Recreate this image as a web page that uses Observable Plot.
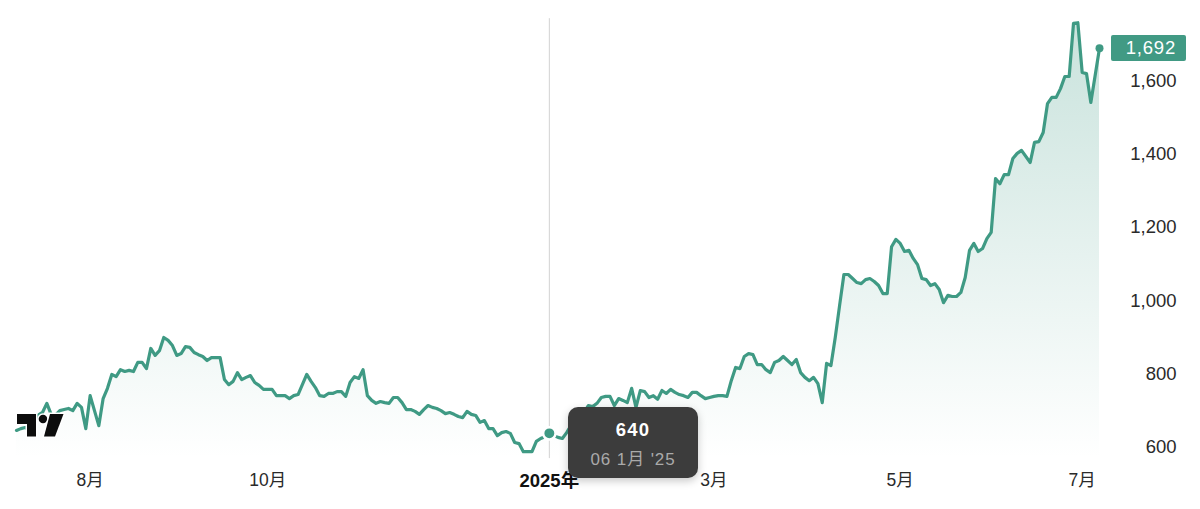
<!DOCTYPE html>
<html><head><meta charset="utf-8">
<script src="https://cdn.jsdelivr.net/npm/d3@7"></script>
<script src="https://cdn.jsdelivr.net/npm/@observablehq/plot@0.6"></script>
<style>
html,body{margin:0;padding:0;background:#fff}
#wrap{position:relative;width:1200px;height:509px;overflow:hidden;font-family:"Liberation Sans","Noto Sans CJK JP",sans-serif}
#wrap svg.plot{position:absolute;left:0;top:0;background:transparent;overflow:visible}
#tag{position:absolute;left:1111px;top:35px;width:75px;height:26px;background:#419a84;border-radius:2px;color:#fff;font-size:18.5px;line-height:26px;text-align:right;box-sizing:border-box;padding-right:10px;letter-spacing:.8px}
#tip{position:absolute;left:568px;top:407px;width:130px;height:71px;background:#3c3c3c;border-radius:10px;box-shadow:0 3px 8px rgba(0,0,0,.22);text-align:center}
#tip .a{position:absolute;left:0;right:0;top:12px;font-size:18.5px;font-weight:700;color:#fff;letter-spacing:1.2px;line-height:22px}
#tip .b{position:absolute;left:0;right:0;top:42px;font-size:17px;color:#aaa;letter-spacing:.9px;line-height:22px}
#logo{position:absolute;left:0;top:400px}
</style></head><body>
<div id="wrap"></div>
<script>
// closing price per trading session (index = session); null where no vertex could be read
const prices = [648,653,656,650,670,690,697,722,692,690,702,705,708,702,722,711,653,743,702,661,
735,763,801,795,814,809,812,809,834,834,817,872,853,866,902,894,880,853,858,877,
875,861,855,850,839,847,847,847,787,773,782,806,787,793,798,779,771,760,760,760,
743,743,743,735,743,746,null,801,782,765,743,741,749,749,754,754,741,779,795,790,
814,743,730,722,727,724,722,738,738,724,705,705,700,692,705,716,711,708,702,694,
697,692,686,683,700,692,689,670,675,653,653,634,642,645,640,615,612,590,590,590,
618,626,631,640,634,629,626,642,661,675,686,697,716,713,722,738,741,741,716,735,
730,724,763,711,757,754,738,743,733,757,749,760,752,746,743,738,752,752,743,735,
738,741,743,743,741,784,820,817,850,858,855,828,828,814,806,834,839,850,839,828,
842,806,793,784,793,776,724,831,825,902,989,1074,1074,1063,1052,1049,1060,1063,1055,1044,
1022,1022,1150,1170,1159,1137,1140,1118,1101,1063,1060,1044,1049,1033,997,1017,1014,1014,1025,1066,
1140,1159,1137,1145,1172,1189,1336,1322,1347,1347,1391,1405,1413,null,1380,1435,1437,1462,1541,1558,
1558,1582,1615,1615,1760,1762,1626,1623,1544,null,1692];
const xTickSessions = [17,58,161,204,246];
const xTickLabels = ["8月","10月","3月","5月","7月"];
const yearSession = 123, yearLabel = "2025年";
const yTicks = [600,800,1000,1200,1400,1600];
const hoverSession = 123, hoverPrice = 640, hoverDate = "06 1月 '25";
const lastPrice = 1692;
const GREEN = "#3f9a84";
const BASE = 571, TOP = 1773;

const data = prices.map((p,i)=>({s:i,p})).filter(d=>d.p!=null);
const fmt = d3.format(",");
const gradient = () => {
  const defs = d3.create("svg:defs");
  const g = defs.append("linearGradient").attr("id","fade").attr("x1",0).attr("x2",0).attr("y1",0).attr("y2",1);
  g.append("stop").attr("offset",0).attr("stop-color",GREEN).attr("stop-opacity",.28);
  g.append("stop").attr("offset",1).attr("stop-color",GREEN).attr("stop-opacity",0);
  return defs.node();
};
const font = {fontSize:18.5, fill:"#2a2a2a", fontWeight:400};
const chart = Plot.plot({
  width:1200, height:509, marginLeft:16, marginRight:101, marginTop:0, marginBottom:51,
  style:{background:"transparent", fontFamily:'"Liberation Sans","Noto Sans CJK JP",sans-serif'},
  x:{type:"linear", domain:[0,250], axis:null},
  y:{domain:[600,1600], range:[447.5,81.5], axis:null},
  marks:[
    gradient,
    Plot.areaY(data,{x:"s",y1:BASE,y2:"p",fill:"url(#fade)"}),
    Plot.ruleX([hoverSession],{y1:BASE,y2:TOP,stroke:"#d2d2d2",strokeWidth:1}),
    Plot.lineY(data,{x:"s",y:"p",stroke:GREEN,strokeWidth:3.2,strokeLinejoin:"round",curve:"linear"}),
    Plot.dot([{s:hoverSession,p:hoverPrice}],{x:"s",y:"p",r:6.2,fill:GREEN,stroke:"#fff",strokeWidth:2.5}),
    Plot.dot([{s:250,p:lastPrice}],{x:"s",y:"p",r:4,fill:GREEN}),
    Plot.axisY(yTicks,{anchor:"right",tickSize:0,tickPadding:77,textAnchor:"end",tickFormat:fmt,dy:-1,label:null,...font,letterSpacing:.7}),
    Plot.axisX(xTickSessions,{anchor:"bottom",tickSize:0,tickPadding:15,tickFormat:(d,i)=>xTickLabels[i],label:null,...font,fontSize:17.5,letterSpacing:.6}),
    Plot.axisX([yearSession],{anchor:"bottom",tickSize:0,tickPadding:15,tickFormat:()=>yearLabel,label:null,...font,fontSize:18.5,fontWeight:700,fill:"#111",letterSpacing:1.8})
  ]
});
const wrap = document.getElementById("wrap");
wrap.appendChild(chart);
wrap.insertAdjacentHTML("beforeend",
 `<svg id="logo" width="80" height="50" viewBox="0 400 80 50">
   <g fill="#0d0d0d" stroke="#fff" stroke-width="3" paint-order="stroke">
    <path d="M17 414H36V436.5H27V424H17Z"/>
    <circle cx="43" cy="419" r="4.3"/>
    <path d="M50 414H63.5L55 436.5H44Z"/>
   </g></svg>
  <div id="tag">${fmt(lastPrice)}</div>
  <div id="tip"><div class="a">${hoverPrice}</div><div class="b">${hoverDate}</div></div>`);
</script>
</body></html>
